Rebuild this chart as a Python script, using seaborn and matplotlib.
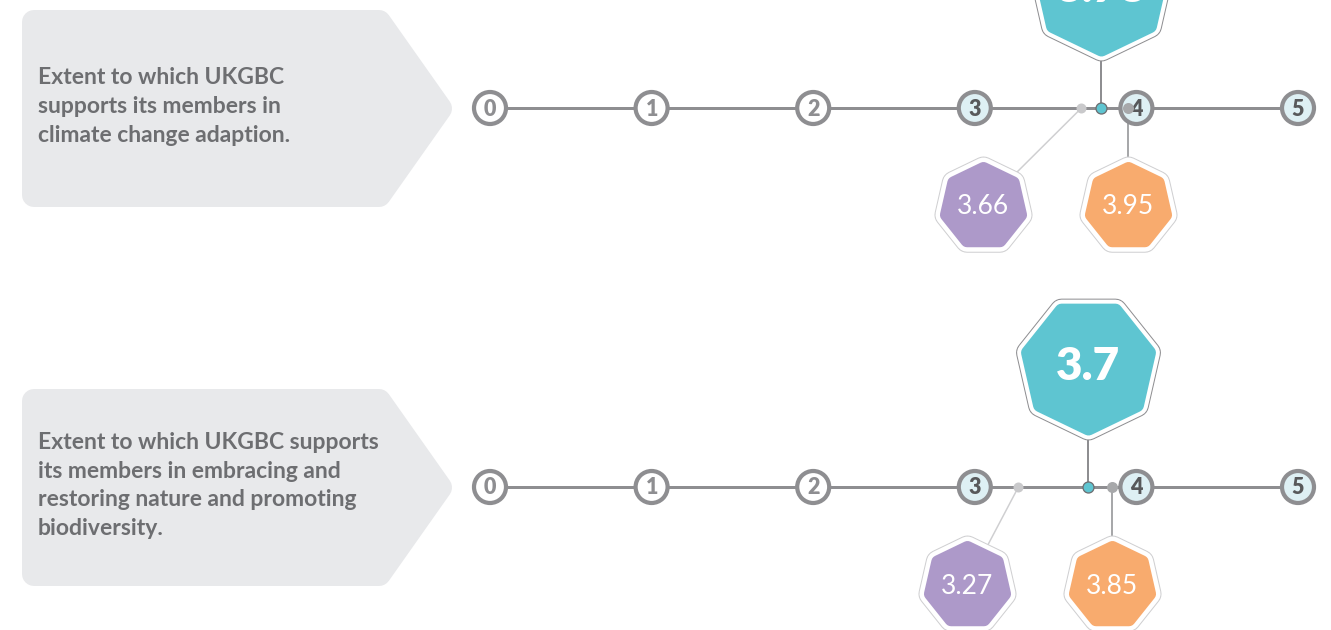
import matplotlib
matplotlib.use("Agg")
import matplotlib.pyplot as plt
from matplotlib.patches import Polygon
import seaborn as sns

# survey questions and average scores (0-5 scale)
questions = [
    "Extent to which UKGBC\nsupports its members in\nclimate change adaption.",
    "Extent to which UKGBC supports\nits members in embracing and\nrestoring nature and promoting\nbiodiversity.",
]
overall = [3.78, 3.7]
purple_scores = [3.66, 3.27]
orange_scores = [3.95, 3.85]
scale = [0, 1, 2, 3, 4, 5]

BLUE = "#5ec5d1"
PURPLE = "#ad99c9"
ORANGE = "#f8ab6e"
LINE = "#8e8e91"
BOX = "#e8e9eb"
TEXT = "#6d6e71"

W, H, DPI = 1331, 630, 100
PX = 72 / DPI  # points per pixel

# layout (pixels)
row_y = [108, 487]
x0_px, unit_px = 490, 161.6
big_off, small_off = 121, 98
purple_shift = 0.9

sns.set_theme(style="white")
plt.rcParams["font.family"] = ["Lato", "DejaVu Sans"]

fig = plt.figure(figsize=(W / DPI, H / DPI), dpi=DPI)
bg = fig.add_axes([0, 0, 1, 1])
bg.set_xlim(0, W)
bg.set_ylim(H, 0)
bg.axis("off")

ax = fig.add_axes([0, 0, 1, 1])
ax.set_xlim(-x0_px / unit_px, (W - x0_px) / unit_px)
ax.set_ylim(H, 0)
ax.axis("off")


def label_box(top, bottom, text):
    mid = (top + bottom) / 2
    r = 12
    pts = [(22 + r, top + r), (379, top + r), (440, mid), (379, bottom - r), (22 + r, bottom - r)]
    bg.add_patch(Polygon(pts, closed=True, facecolor=BOX, edgecolor=BOX,
                         linewidth=2 * r * PX, joinstyle="round"))
    bg.text(38, mid - 2, text, ha="left", va="center", fontsize=16.5, fontweight="bold",
            color=TEXT, linespacing=1.45)


def hepta(x, y, core, fill_w, ring_out, ring_col, color, up=True):
    marker = (7, 0, 0 if up else 180)
    s = (2 * core * PX) ** 2
    kw = dict(marker=marker, s=s, joinstyle="round", clip_on=False, legend=False, ax=ax)
    sns.scatterplot(x=[x], y=[y], color=ring_col, edgecolor=ring_col,
                    linewidth=2 * (ring_out + 1 - core) * PX, zorder=6, **kw)
    sns.scatterplot(x=[x], y=[y], color="white", edgecolor="white",
                    linewidth=2 * (ring_out - core) * PX, zorder=7, **kw)
    sns.scatterplot(x=[x], y=[y], color=color, edgecolor=color,
                    linewidth=fill_w * PX, zorder=8, **kw)


for i, q in enumerate(questions):
    y = row_y[i]
    label_box(y - 98, y + 99, q)

    # scale line with numbered circles
    sns.lineplot(x=[scale[0], scale[-1]], y=[y, y], color=LINE, linewidth=3 * PX,
                 ax=ax, zorder=2)
    fills = ["hi" if t >= 3 else "lo" for t in scale]
    sns.scatterplot(x=scale, y=[y] * len(scale), hue=fills,
                    palette={"lo": "white", "hi": "#def0f4"}, s=(32 * PX) ** 2,
                    edgecolor=LINE, linewidth=4.2 * PX, legend=False, zorder=3, ax=ax)
    for t in scale:
        ax.text(t, y + 1, str(t), ha="center", va="center", fontsize=15.5, fontweight="heavy",
                color="#58595b" if t >= 3 else LINE, zorder=4)

    v, p, o = overall[i], purple_scores[i], orange_scores[i]

    # connectors
    ax.plot([v, v], [y, y - big_off], color=LINE, linewidth=2 * PX, zorder=1)
    ax.plot([o, o], [y, y + small_off], color="#a7a8aa", linewidth=2 * PX, zorder=1)
    ax.plot([p, o - purple_shift], [y, y + small_off], color="#cfcfd1",
            linewidth=1.5 * PX, zorder=1)

    # score dots on the line
    sns.scatterplot(x=[p], y=[y], color="#c9c9cb", edgecolor="#c9c9cb", s=(10 * PX) ** 2,
                    linewidth=0, zorder=5, legend=False, ax=ax)
    sns.scatterplot(x=[o], y=[y], color="#a7a8aa", edgecolor="#a7a8aa", s=(11 * PX) ** 2,
                    linewidth=0, zorder=5, legend=False, ax=ax)
    sns.scatterplot(x=[v], y=[y], color=BLUE, edgecolor="#6d6e71", s=(11 * PX) ** 2,
                    linewidth=1.3 * PX, zorder=5, legend=False, ax=ax)

    # value badges
    hepta(v, y - big_off, 62, 14, 73, LINE, BLUE, up=False)
    ax.text(v, y - big_off + 1, f"{v:g}", ha="center", va="center", fontsize=33,
            fontweight="heavy", color="white", zorder=9)
    hepta(o, y + small_off, 38, 13, 49, "#cfcfd1", ORANGE, up=True)
    ax.text(o, y + small_off + 1, f"{o:g}", ha="center", va="center", fontsize=19,
            color="white", zorder=9)
    hepta(o - purple_shift, y + small_off, 38, 13, 49, "#cfcfd1", PURPLE, up=True)
    ax.text(o - purple_shift, y + small_off + 1, f"{p:g}", ha="center", va="center",
            fontsize=19, color="white", zorder=9)

fig.savefig("out.png", dpi=DPI)
